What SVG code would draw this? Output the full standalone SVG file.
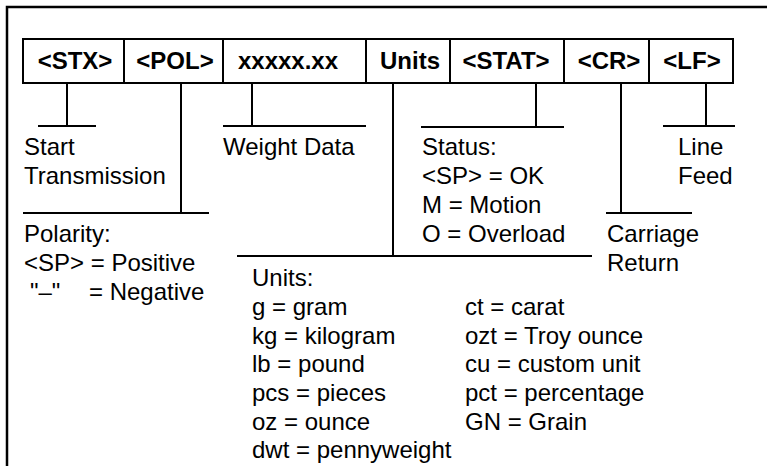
<svg xmlns="http://www.w3.org/2000/svg" width="767" height="466" viewBox="0 0 767 466">
<style>
text{font-family:"Liberation Sans",Arial,sans-serif;font-size:24px;fill:#000}
.h{font-weight:bold;text-anchor:middle}
.cell{fill:#fff;stroke:#000;stroke-width:2}
.c{stroke:#000;stroke-width:2;fill:none}
.frame{stroke:#000;stroke-width:2.5;fill:none}
</style>
<rect width="767" height="466" fill="#fff"/>
<path class="frame" d="M7,466 V7 H767"/>
<g id="header">
<g id="stx"><rect class="cell" x="23" y="39" width="101" height="44"/><text class="h" x="75" y="69">&lt;STX&gt;</text></g>
<g id="pol"><rect class="cell" x="124" y="39" width="99" height="44"/><text class="h" x="175" y="69">&lt;POL&gt;</text></g>
<g id="data"><rect class="cell" x="223" y="39" width="143" height="44"/><text class="h" x="288" y="69">xxxxx.xx</text></g>
<g id="units"><rect class="cell" x="366" y="39" width="84" height="44"/><text class="h" x="410" y="69">Units</text></g>
<g id="stat"><rect class="cell" x="450" y="39" width="114" height="44"/><text class="h" x="506" y="69">&lt;STAT&gt;</text></g>
<g id="cr"><rect class="cell" x="564" y="39" width="85" height="44"/><text class="h" x="609" y="69">&lt;CR&gt;</text></g>
<g id="lf"><rect class="cell" x="649" y="39" width="84" height="44"/><text class="h" x="692" y="69">&lt;LF&gt;</text></g>
</g>
<g id="connectors">
<path class="c" d="M67,83 V126 M38,126 H96"/>
<path class="c" d="M181,83 V213 M23,213 H209"/>
<path class="c" d="M252,83 V126 M223,126 H366"/>
<path class="c" d="M393,83 V256 M237,256 H592"/>
<path class="c" d="M536,83 V127 M421,127 H564"/>
<path class="c" d="M621,83 V213 M606,213 H692"/>
<path class="c" d="M706,83 V126 M663,126 H735"/>
</g>
<g id="label-start"><text x="24" y="155">Start</text><text x="24" y="184">Transmission</text></g>
<g id="label-weight"><text x="223" y="155">Weight Data</text></g>
<g id="label-polarity"><text x="24" y="242">Polarity:</text><text x="24" y="271">&lt;SP&gt; = Positive</text><text x="30" y="300">"–"<tspan x="89">= Negative</tspan></text></g>
<g id="label-status"><text x="422" y="155">Status:</text><text x="422" y="184">&lt;SP&gt; = OK</text><text x="422" y="213">M = Motion</text><text x="422" y="242">O = Overload</text></g>
<g id="label-cr"><text x="607" y="242">Carriage</text><text x="607" y="271">Return</text></g>
<g id="label-lf"><text x="678" y="155">Line</text><text x="678" y="184">Feed</text></g>
<g id="label-units">
<text x="252" y="286">Units:</text>
<text x="252" y="315">g = gram</text>
<text x="252" y="344">kg = kilogram</text>
<text x="252" y="372">lb = pound</text>
<text x="252" y="401">pcs = pieces</text>
<text x="252" y="430">oz = ounce</text>
<text x="252" y="458">dwt = pennyweight</text>
<text x="465" y="315">ct = carat</text>
<text x="465" y="344">ozt = Troy ounce</text>
<text x="465" y="372">cu = custom unit</text>
<text x="465" y="401">pct = percentage</text>
<text x="465" y="430">GN = Grain</text>
</g>
</svg>
